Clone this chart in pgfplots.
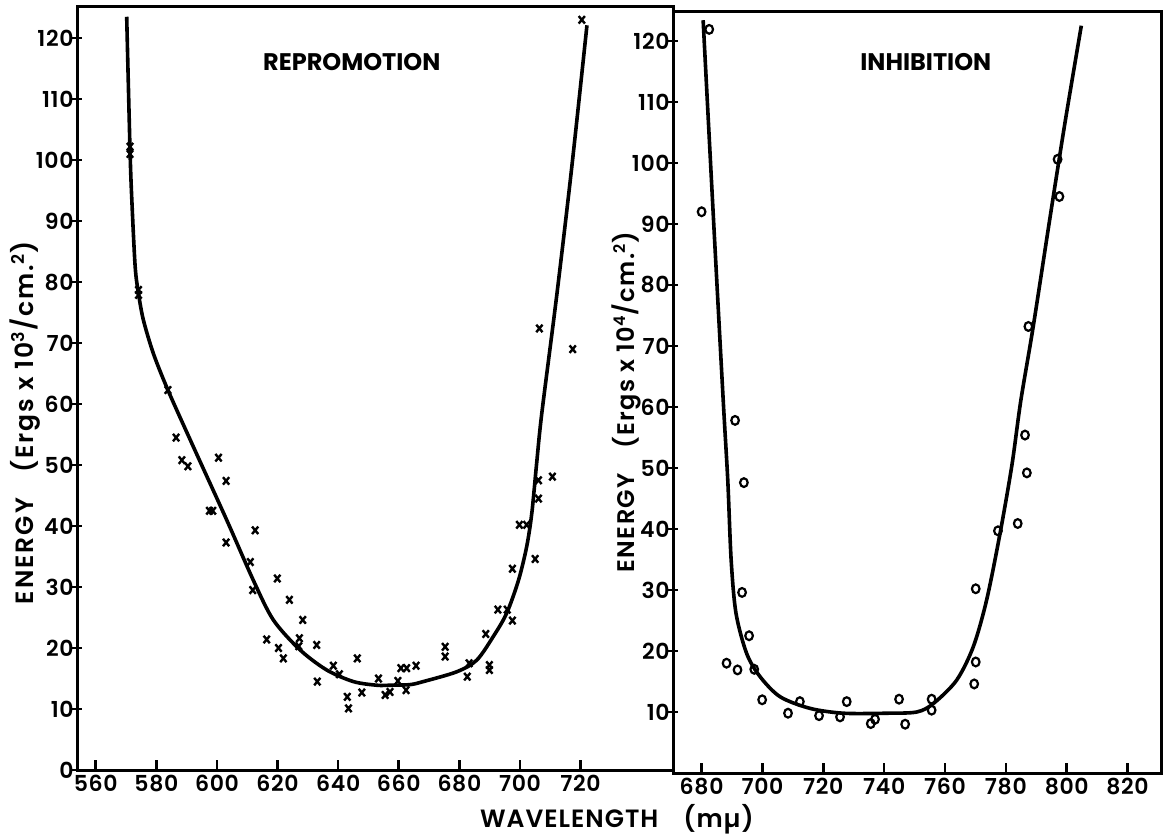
\documentclass[border=0pt]{standalone}
\usepackage{fontspec}
\setmainfont{Poppins}[UprightFont=* SemiBold, BoldFont=* Bold]
\usepackage{pgfplots}
\pgfplotsset{compat=1.18}
\pgfplotsset{
  panel/.style={
    scale only axis, clip=false,
    axis line style={line width=1.5pt, black},
    tick align=inside, tick pos=left, major tick length=5pt,
    tick style={line width=1.3pt, black},
    ytick style={xshift=-2.5pt},
    yticklabel style={xshift=-0.5pt, inner sep=1pt},
    xticklabel style={inner sep=1pt, yshift=-1.5pt},
    tick label style={font=\fontsize{11}{12}\selectfont\addfontfeatures{LetterSpace=3}},
    /pgf/number format/assume math mode=true,
    /pgf/number format/1000 sep={},
  },
  fit/.style={black, line width=1.8pt, smooth, tension=0.5, no markers},
}
\begin{document}
\begin{tikzpicture}[x=1pt,y=1pt]
\useasboundingbox (0,0) rectangle (582.5,417.5);
% ---------------- REPROMOTION ----------------
\begin{axis}[panel,
  at={(38.5pt,32.5pt)}, anchor=south west,
  width=298pt, height=381.5pt,
  xmin=553.8, xmax=750.5, ymin=0, ymax=125.1,
  xtick={560,580,...,720}, ytick={0,10,...,120},
  ylabel={ENERGY\quad(Ergs x 10\textsuperscript{3}/cm.\textsuperscript{2})},
  ylabel style={at={(axis description cs:-0.087,0.455)}, anchor=center, font=\fontsize{12.5}{14}\selectfont\addfontfeatures{LetterSpace=8}},
  xlabel={WAVELENGTH\quad(mµ)},
  xlabel style={at={(axis description cs:0.906,-0.064)}, anchor=center, font=\fontsize{12.5}{14}\selectfont\addfontfeatures{LetterSpace=4}},
]
\addplot[fit] coordinates {
(570.2,123.5) (571.3,101.6) (571.9,93.4) (573,82.5) (574.1,78.1) (575.7,73.8)
(579,68.3) (583.8,62.3) (592.2,53) (603.2,41) (612,31.1) (618.6,24.6)
(627.4,19.7) (636.2,16.4) (645,14.5) (652.7,13.9) (657.1,13.9) (663.7,14.0)
(668.1,14.5) (679.1,16.1) (685.7,18.0) (691.2,21.9) (695.6,25.7) (699.5,31.1)
(702.2,36.6) (703.9,42.1) (705.5,50.3) (707.2,58.5) (712.2,78.1) (717.1,98.9)
(722.1,122.1)};
\addplot[only marks, mark=x, mark size=2.2pt, mark options={line width=1.2pt, black, yscale=1.2}] coordinates {
(571.3,102.2) (571.3,101.0) (574.1,78.7) (574.1,77.9) (583.8,62.3) (586.5,54.5)
(588.4,50.8) (590.4,49.8) (597.5,42.5) (598.6,42.5) (600.5,51.2) (603.0,47.4)
(603.0,37.3) (612.6,39.3) (611.0,34.1) (611.8,29.5) (616.4,21.4) (619.9,31.4)
(620.3,20.0) (621.9,18.3) (623.9,27.9) (627.2,21.6) (627.0,20.3) (628.3,24.6)
(632.9,20.5) (633.1,14.5) (638.4,17.1) (640.4,15.7) (643.0,12.0) (643.4,10.1)
(646.3,18.3) (647.8,12.7) (653.3,15.0) (655.5,12.3) (657.1,12.8) (659.7,14.6)
(660.7,16.7) (662.6,16.7) (662.4,13.1) (665.7,17.1) (675.3,20.2) (675.3,18.6)
(682.6,15.3) (683.2,17.5) (688.7,22.3) (689.9,17.2) (689.9,16.4) (692.7,26.3)
(695.8,26.3) (697.5,24.5) (697.5,33.0) (699.8,40.2) (702.2,40.2) (705.0,34.6)
(706.1,47.5) (706.1,44.5) (706.4,72.4) (710.7,48.1) (717.4,69.0) (720.4,123.0)};
\node[font=\bfseries\fontsize{12}{14}\selectfont] at (rel axis cs:0.461,0.928) {REPROMOTION};
\end{axis}
% ---------------- INHIBITION ----------------
\begin{axis}[panel,
  at={(336.5pt,31pt)}, anchor=south west,
  width=244pt, height=380.5pt,
  xmin=670.6, xmax=831, ymin=0, ymax=124.75,
  xtick={680,700,...,820}, ytick={10,20,...,120},
  ylabel={ENERGY\quad(Ergs x 10\textsuperscript{4}/cm.\textsuperscript{2})},
  ylabel style={at={(axis description cs:-0.096,0.4875)}, anchor=center, font=\fontsize{12}{14}\selectfont\addfontfeatures{LetterSpace=6}},
]
\addplot[fit] coordinates {
(680.5,123.4) (683.8,91.8) (687.1,61.1) (688.6,48) (689.7,35) (691.3,26.2)
(694.8,19.6) (699.2,15.8) (705.8,12.5) (715.6,10.6) (726.6,9.8) (740.9,9.8)
(750.7,10.0) (756.2,11.4) (763.8,15.2) (769.3,20.7) (773.7,28.4) (778.1,39.3)
(782,50.5) (784.9,61) (789,73.2) (794.5,91) (799.5,106.8) (804.8,122.5)};
\addplot[only marks, mark=o, mark size=1.9pt, mark options={line width=1.1pt, black, yscale=1.15}] coordinates {
(682.5,121.9) (680.0,92.0) (691.0,57.8) (693.9,47.6) (693.3,29.6) (695.6,22.5)
(688.2,18.0) (691.8,16.9) (697.3,17.0) (699.9,12.0) (708.4,9.8) (712.3,11.7)
(718.6,9.4) (725.5,9.2) (727.7,11.7) (735.6,8.1) (737.0,8.8) (744.9,12.1)
(746.9,8.0) (755.6,12.1) (755.6,10.3) (769.6,14.6) (770.1,18.2) (770.1,30.2)
(777.4,39.7) (783.9,40.9) (786.9,49.2) (786.3,55.4) (787.4,73.2) (797.0,100.6)
(797.6,94.5)};
\node[font=\bfseries\fontsize{12}{14}\selectfont] at (rel axis cs:0.518,0.934) {INHIBITION};
\end{axis}
\end{tikzpicture}
\end{document}
